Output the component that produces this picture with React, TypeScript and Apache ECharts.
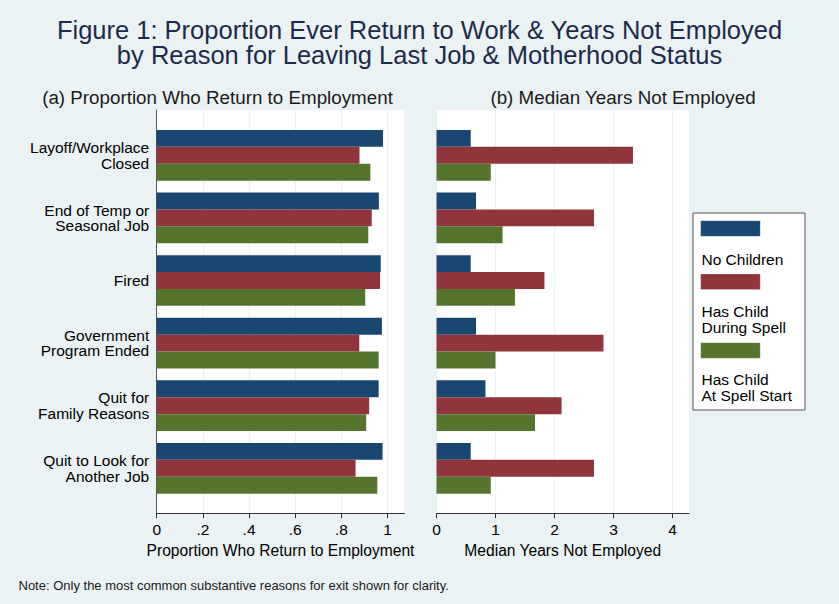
import React, { useEffect, useRef } from "react";
import * as echarts from "echarts";

const categories = [
  "Layoff/Workplace\nClosed",
  "End of Temp or\nSeasonal Job",
  "Fired",
  "Government\nProgram Ended",
  "Quit for\nFamily Reasons",
  "Quit to Look for\nAnother Job",
];
const seriesNames = ["No Children", "Has Child During Spell", "Has Child At Spell Start"];
const legendLabels = ["No Children", "Has Child\nDuring Spell", "Has Child\nAt Spell Start"];
const colors = ["#1a476f", "#90353b", "#55752f"];

// (a) Proportion who return to employment
const propNoChildren = [0.98, 0.962, 0.97, 0.975, 0.961, 0.978];
const propDuringSpell = [0.878, 0.931, 0.967, 0.877, 0.92, 0.861];
const propAtStart = [0.925, 0.916, 0.903, 0.961, 0.907, 0.955];

// (b) Median years not employed
const yearsNoChildren = [0.58, 0.67, 0.58, 0.67, 0.83, 0.58];
const yearsDuringSpell = [3.33, 2.67, 1.83, 2.83, 2.12, 2.67];
const yearsAtStart = [0.92, 1.12, 1.33, 1.0, 1.67, 0.92];

const leftTickValues = [0, 0.2, 0.4, 0.6, 0.8, 1];
const leftTickLabels = ["0", ".2", ".4", ".6", ".8", "1"];
const rightTickValues = [0, 1, 2, 3, 4];
const rightTickLabels = ["0", "1", "2", "3", "4"];

const FONT = '"Liberation Sans", Arial, Helvetica, sans-serif';
const BG = "#eaf2f3";

export default function App() {
  const ref = useRef<HTMLDivElement>(null);
  useEffect(() => {
    if (!ref.current) return;
    const chart = echarts.init(ref.current, null, { renderer: "svg" });

    const L = { left: 156.7, width: 247.6 };
    const R = { left: 436.5, width: 252.5 };
    const leftMax = 1.072;
    const rightMax = 4.28;
    const bgTop = 110;
    const bgHeight = 403.3;
    const barTop = 124;
    const barHeight = 375.6;

    const labelFor = (vals: number[], labels: string[]) => (v: number) => {
      for (let i = 0; i < vals.length; i++) if (Math.abs(vals[i] - v) < 1e-6) return labels[i];
      return "";
    };

    const bgXAxis = (gridIndex: number, max: number, interval: number, vals: number[], labels: string[], name: string) => ({
      type: "value",
      gridIndex,
      min: 0,
      max,
      interval,
      position: "bottom",
      axisLine: { show: true, onZero: false, lineStyle: { color: "#333", width: 1 } },
      axisTick: { show: true, length: 5, customValues: vals, lineStyle: { color: "#333" } },
      axisLabel: {
        show: true,
        customValues: vals,
        formatter: labelFor(vals, labels),
        fontSize: 15.5,
        fontFamily: FONT,
        color: "#000",
        margin: 8,
      },
      splitLine: { show: true, lineStyle: { color: BG, width: 1.2 } },
      name,
      nameLocation: "middle",
      nameGap: 27,
      nameTextStyle: { fontSize: 15.6, fontFamily: FONT, color: "#000" },
    });

    const barSeries = (data: number[], i: number, axisIndex: number) => ({
      type: "bar",
      name: seriesNames[i],
      xAxisIndex: axisIndex,
      yAxisIndex: axisIndex,
      data,
      barWidth: 16.9,
      barGap: "0%",
      itemStyle: { color: colors[i] },
    });

    const legendItems: any[] = [];
    const swY = [220.7, 274, 342.7];
    const txY = [259.3, 319.3, 387.8];
    for (let i = 0; i < 3; i++) {
      legendItems.push({
        type: "rect",
        shape: { x: 700.7, y: swY[i], width: 59.5, height: 15.5 },
        style: { fill: colors[i], stroke: "rgba(255,255,255,0.4)", lineWidth: 0.5 },
        z: 101,
      });
      legendItems.push({
        type: "text",
        x: 701.5,
        y: txY[i],
        style: {
          text: legendLabels[i],
          fontSize: 15.5,
          fontFamily: FONT,
          fill: "#000",
          align: "left",
          verticalAlign: "middle",
          lineHeight: 16,
        },
        z: 101,
      });
    }

    const option: any = {
      animation: false,
      backgroundColor: BG,
      title: {
        text: "Figure 1: Proportion Ever Return to Work & Years Not Employed\nby Reason for Leaving Last Job & Motherhood Status",
        left: "center",
        top: 12,
        textStyle: { fontSize: 25.5, fontWeight: "normal", fontFamily: FONT, color: "#1c2b4b", lineHeight: 25.5 },
      },
      graphic: [
        {
          type: "text",
          x: 217.5,
          y: 97,
          style: { text: "(a) Proportion Who Return to Employment", fontSize: 18.8, fontFamily: FONT, fill: "#1a1a1a", align: "center", verticalAlign: "middle" },
        },
        {
          type: "text",
          x: 623,
          y: 97,
          style: { text: "(b) Median Years Not Employed", fontSize: 18.8, fontFamily: FONT, fill: "#1a1a1a", align: "center", verticalAlign: "middle" },
        },
        {
          type: "text",
          x: 18.5,
          y: 585,
          style: { text: "Note: Only the most common substantive reasons for exit shown for clarity.", fontSize: 13, fontFamily: FONT, fill: "#1a1a1a", align: "left", verticalAlign: "middle" },
        },
        {
          type: "rect",
          shape: { x: 693, y: 213, width: 112, height: 197 },
          style: { fill: "#fff", stroke: "#555", lineWidth: 1 },
          z: 100,
        },
        ...legendItems,
      ],
      grid: [
        { left: L.left, top: bgTop, width: L.width, height: bgHeight, show: true, backgroundColor: "#fff", borderWidth: 0 },
        { left: R.left, top: bgTop, width: R.width, height: bgHeight, show: true, backgroundColor: "#fff", borderWidth: 0 },
        { left: L.left, top: barTop, width: L.width, height: barHeight },
        { left: R.left, top: barTop, width: R.width, height: barHeight },
      ],
      xAxis: [
        bgXAxis(0, leftMax, 0.2, leftTickValues, leftTickLabels, "Proportion Who Return to Employment"),
        bgXAxis(1, rightMax, 1, rightTickValues, rightTickLabels, "Median Years Not Employed"),
        { type: "value", gridIndex: 2, min: 0, max: leftMax, show: false },
        { type: "value", gridIndex: 3, min: 0, max: rightMax, show: false },
      ],
      yAxis: [
        {
          type: "value",
          gridIndex: 0,
          min: 0,
          max: 1,
          axisLine: { show: true, onZero: false, lineStyle: { color: "#555", width: 1 } },
          axisTick: { show: false },
          axisLabel: { show: false },
          splitLine: { show: false },
        },
        { type: "value", gridIndex: 1, min: 0, max: 1, show: false },
        {
          type: "category",
          gridIndex: 2,
          data: categories,
          inverse: true,
          axisLine: { show: false },
          axisTick: { show: false },
          splitLine: { show: false },
          axisLabel: { fontSize: 15.5, fontFamily: FONT, color: "#000", margin: 7.5, lineHeight: 15.5, align: "right" },
        },
        { type: "category", gridIndex: 3, data: categories, inverse: true, show: false },
      ],
      series: [
        barSeries(propNoChildren, 0, 2),
        barSeries(propDuringSpell, 1, 2),
        barSeries(propAtStart, 2, 2),
        barSeries(yearsNoChildren, 0, 3),
        barSeries(yearsDuringSpell, 1, 3),
        barSeries(yearsAtStart, 2, 3),
      ],
    };
    chart.setOption(option);
    return () => chart.dispose();
  }, []);
  return <div ref={ref} style={{ position: "fixed", left: 0, top: 0, width: 839, height: 604 }} />;
}
